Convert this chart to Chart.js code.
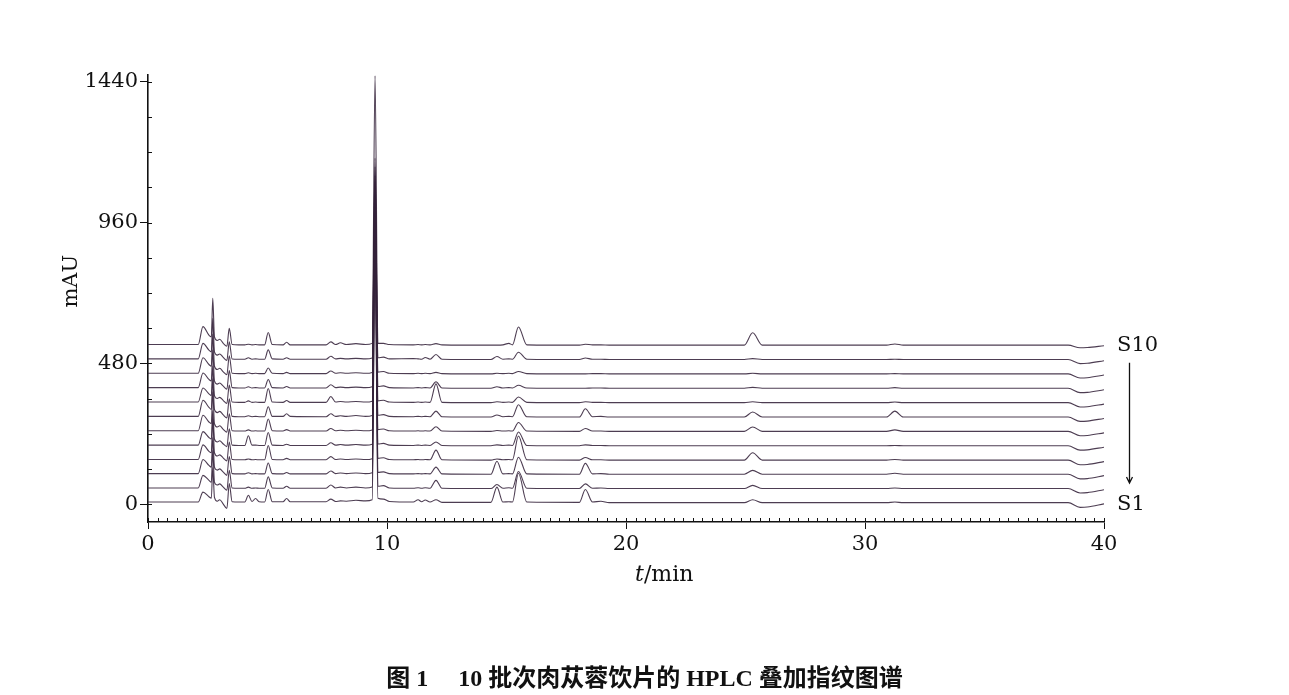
<!DOCTYPE html>
<html><head><meta charset="utf-8">
<script src="https://cdn.jsdelivr.net/npm/chart.js@4.4.1/dist/chart.umd.min.js"></script>
<style>
html,body{margin:0;padding:0;background:#fff;}
#wrap{position:relative;width:1289px;height:695px;overflow:hidden;}
#c{position:absolute;left:0;top:0;}
#cap{position:absolute;left:0;width:1289px;top:664px;text-align:center;font:bold 24px "Liberation Serif","Noto Sans CJK SC",serif;color:#111;line-height:28px;}
</style></head><body>
<div id="wrap"><canvas id="c" width="1289" height="695"></canvas><div id="cap">图 1&emsp;&nbsp;10 批次肉苁蓉饮片的 HPLC 叠加指纹图谱</div></div>
<script>
// retention time points (min) at which each chromatogram is read
const times = [0,1.0,2.1,2.3,2.55,2.65,2.71,2.78,2.9,3.0,3.15,3.3,3.4,3.52,3.8,4.05,4.2,4.35,4.5,4.65,4.88,5.03,5.2,5.65,5.8,5.95,7.45,7.65,7.85,8.05,8.3,8.7,9.1,9.38,9.5,9.62,9.85,10.1,11.1,11.3,11.45,11.6,11.8,12.05,12.3,14.35,14.6,14.85,15.1,15.25,15.5,15.85,18.05,18.3,18.6,18.95,19.3,24.95,25.3,25.7,30.9,31.25,31.6,38.5,39.0,39.3,40];

// signal above each trace's own baseline (mAU), bottom trace first
const trace1  = [2,2,2,36,20,15,120,18,5,10, -5,-20,65,3,2,2,25,4,14,3, 2,45,3,3,14,3,3,12,4,6, 5,8,6,10,865,15,12,4,2,10, 3,9,2,10,1,1,53,2,3,2, 100,2,1,45,2,5,0,0,10,0, 0,2,0,0,-16,-15,-4];
const trace2  = [2,2,2,45,28,22,130,22,12,16, 5,-6,62,2,1,1,5,1,2,1, 1,40,2,1,8,1,1,12,2,5, 2,5,2,5,847,8,10,2,1,3, 1,3,1,28,1,0,14,1,3,1, 58,1,0,16,1,2,0,0,11,0, 0,2,0,0,-15,-14,-4];
const trace3  = [2,2,2,50,30,24,125,24,14,18, 7,-4,60,2,1,1,5,1,2,1, 1,38,2,1,6,1,1,11,2,4, 2,4,2,5,858,6,8,2,1,2, 1,2,1,24,1,0,44,1,2,1, 58,1,0,37,1,2,0,0,13,0, 0,3,0,0,-16,-15,-5];
const trace4  = [2,2,2,52,30,25,140,25,14,18, 7,-3,62,2,1,1,4,1,2,1, 1,50,2,1,6,1,1,12,2,4, 2,4,2,5,870,6,8,2,1,2, 1,2,1,34,1,0,4,1,2,1, 82,1,0,9,1,1,0,0,25,0, 0,2,0,0,-16,-15,-5];
const trace5  = [2,2,2,48,28,23,120,23,13,17, 6,-3,58,2,1,1,34,2,2,1, 1,45,2,1,5,1,1,10,2,4, 2,4,2,5,801,6,8,2,1,2, 1,2,1,13,1,0,3,1,2,1, 47,1,0,3,1,1,0,0,0,0, 0,1,0,0,-15,-14,-5];
const trace6  = [2,2,2,55,32,26,135,26,15,19, 7,-3,60,2,1,1,5,1,2,1, 1,42,2,1,6,1,1,10,2,4, 2,4,2,5,802,6,8,2,1,2, 1,2,1,16,1,0,3,1,2,1, 30,1,0,10,1,1,0,0,15,0, 0,5,0,0,-15,-14,-5];
const trace7  = [2,2,2,57,33,26,130,26,15,19, 7,-3,62,2,1,1,4,1,2,1, 1,35,2,2,11,2,1,11,2,4, 2,5,2,5,793,6,8,2,1,2, 1,2,1,20,1,0,7,1,2,1, 42,1,0,28,1,2,0,0,17,0, 0,20,0,0,-15,-14,-5];
const trace8  = [2,2,2,50,30,24,125,24,14,18, 7,-3,60,2,1,1,6,1,2,1, 1,48,2,1,7,1,1,21,2,4, 2,4,2,5,834,6,8,2,1,2, 1,2,1,64,1,0,3,1,2,1, 19,1,0,3,1,1,0,0,3,0, 0,2,0,0,-15,-14,-5];
const trace9  = [2,2,2,52,30,25,130,25,14,18, 7,-3,60,2,1,1,5,1,2,1, 1,30,2,1,6,1,1,12,2,4, 2,4,2,5,705,6,8,2,1,2, 1,2,1,22,1,0,5,1,2,1, 10,1,0,0,1,1,0,0,3,0, 0,2,0,0,-15,-14,-5];
const trace10 = [2,2,2,55,32,26,135,26,15,19, 7,-3,62,2,1,1,4,1,2,1, 1,20,2,1,5,1,1,10,2,4, 2,4,2,5,676,6,8,2,1,2, 1,2,1,5,1,0,2,1,2,1, 8,1,0,0,1,1,0,0,2,0, 0,1,0,0,-14,-13,-4];
const trace11 = [2,2,2,55,32,26,140,26,15,19, 7,-3,60,2,1,1,6,1,2,1, 1,33,2,1,6,1,1,11,2,4, 2,4,2,5,657,6,8,2,3,2, 1,7,1,17,1,0,10,1,2,1, 25,1,0,5,1,1,0,0,3,0, 0,1,0,0,-14,-13,-4];
const trace12 = [2,2,2,63,34,28,160,28,16,20, 6,-4,57,2,1,1,3,1,2,1, 1,43,2,1,10,1,1,11,2,8, 2,5,2,6,918,6,6,2,1,2, 1,2,1,5,1,0,0,1,6,1, 62,1,0,3,1,1,0,0,42,0, 0,4,0,0,-9,-8,-2];

// vertical stacking offset of each trace (mAU)
const offsets = [5,53,102,150,199,248,297,346,395,444,493,542];
const traceNames = ['1','2','3','4','5','6','7','8','9','10','11','12'];

const xTicks = [0,10,20,30,40];
const yTicks = [0,480,960,1440];
const endLabels = ['S10','S1'];

const series = [trace1,trace2,trace3,trace4,trace5,trace6,trace7,trace8,trace9,trace10,trace11,trace12];

const FONT = '"DejaVu Serif", "Liberation Serif", serif';

const datasets = series.map((vals, i) => ({
  label: traceNames[i],
  data: times.map((t, j) => ({x: t, y: offsets[i] + vals[j]})),
  borderColor: 'rgba(52,34,58,0.88)',
  borderWidth: 1.1,
  pointRadius: 0,
  cubicInterpolationMode: 'monotone',
  fill: false
}));

const overlay = {
  id: 'overlay',
  afterDraw(chart) {
    const {ctx, chartArea: a, scales: {x, y}} = chart;
    ctx.save();
    ctx.strokeStyle = '#111';
    ctx.lineWidth = 1;
    // minor ticks on x (inside)
    ctx.beginPath();
    for (let k = 0; k <= 100; k++) {
      const px = Math.round(x.getPixelForValue(k * 0.4)) + 0.5;
      ctx.moveTo(px, a.bottom);
      ctx.lineTo(px, a.bottom - 4);
    }
    // minor ticks on y (inside)
    for (let k = 0; k <= 12; k++) {
      const py = Math.round(y.getPixelForValue(k * 120)) + 0.5;
      ctx.moveTo(a.left, py);
      ctx.lineTo(a.left + 4, py);
    }
    ctx.stroke();

    ctx.fillStyle = '#111';
    // y title
    ctx.save();
    ctx.translate(72, y.getPixelForValue(760));
    ctx.rotate(-Math.PI / 2);
    ctx.font = '21px ' + FONT;
    ctx.textAlign = 'center';
    ctx.textBaseline = 'middle';
    ctx.fillText('mAU', 0, 0);
    ctx.restore();

    // x title: italic t + /min
    const cx = x.getPixelForValue(21.6);
    const ty = a.bottom + 53;
    ctx.textBaseline = 'middle';
    ctx.font = 'italic 22px ' + FONT;
    const wT = ctx.measureText('t').width;
    ctx.font = '22px ' + FONT;
    const wR = ctx.measureText('/min').width;
    const sx = cx - (wT + wR) / 2;
    ctx.textAlign = 'left';
    ctx.font = 'italic 22px ' + FONT;
    ctx.fillText('t', sx, ty);
    ctx.font = '22px ' + FONT;
    ctx.fillText('/min', sx + wT, ty);

    // end labels
    ctx.font = '21px ' + FONT;
    ctx.fillText(endLabels[0], a.right + 13, y.getPixelForValue(offsets[11]));
    ctx.fillText(endLabels[1], a.right + 13, y.getPixelForValue(offsets[0] - 8));

    // arrow
    const ax = a.right + 25.5;
    const y1 = y.getPixelForValue(482), y2 = y.getPixelForValue(72);
    ctx.beginPath();
    ctx.lineWidth = 1.3;
    ctx.moveTo(ax, y1);
    ctx.lineTo(ax, y2);
    ctx.moveTo(ax - 3, y2 - 6);
    ctx.lineTo(ax, y2);
    ctx.lineTo(ax + 3, y2 - 6);
    ctx.stroke();
    ctx.restore();
  }
};

new Chart(document.getElementById('c'), {
  type: 'line',
  data: {datasets},
  plugins: [overlay],
  options: {
    responsive: false,
    animation: false,
    layout: {padding: {left: 0, right: 185, top: 75, bottom: 123}},
    plugins: {legend: {display: false}, tooltip: {enabled: false}},
    scales: {
      x: {
        type: 'linear', min: 0, max: 40,
        afterBuildTicks: s => { s.ticks = xTicks.map(v => ({value: v})); },
        afterFit: s => { s.height = 50; },
        ticks: {color: '#111', font: {family: FONT, size: 21}, padding: 3, maxRotation: 0, callback: v => String(v)},
        grid: {drawOnChartArea: false, drawTicks: true, tickLength: 7, color: '#111', lineWidth: 1},
        border: {display: true, color: '#111', width: 1.6}
      },
      y: {
        type: 'linear', min: -61, max: 1463,
        afterBuildTicks: s => { s.ticks = yTicks.map(v => ({value: v})); },
        afterFit: s => { s.width = 148; },
        ticks: {color: '#111', font: {family: FONT, size: 21}, padding: 2, callback: v => String(v)},
        grid: {drawOnChartArea: false, drawTicks: true, tickLength: 8, color: '#111', lineWidth: 1},
        border: {display: true, color: '#111', width: 1.6}
      }
    }
  }
});
</script>
</body></html>
